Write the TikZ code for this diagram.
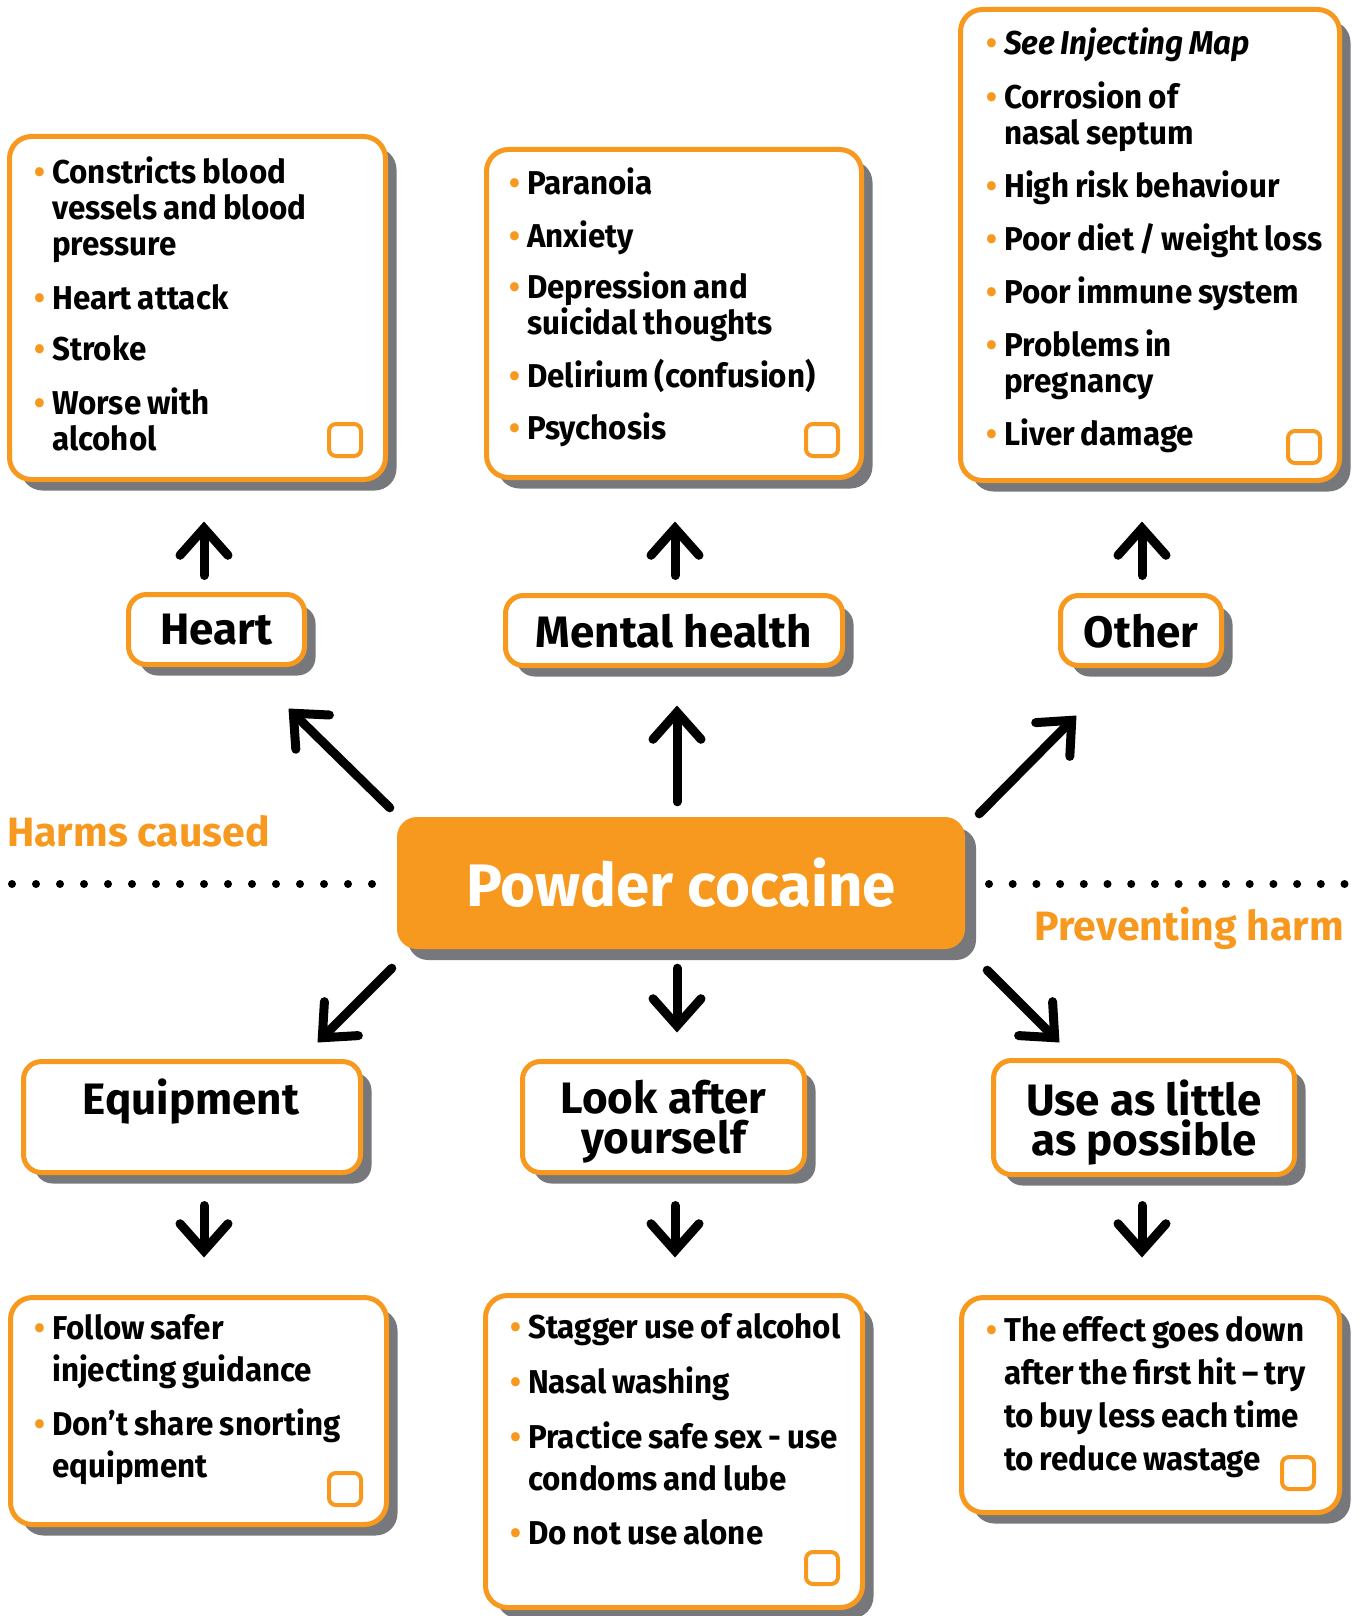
\documentclass[tikz,border=0pt]{standalone}
\usepackage{fontspec}
\setmainfont{Fira Sans}
\newfontfamily\listfont{Fira Sans}[FakeStretch=0.95,WordSpace=0.8]
\usetikzlibrary{arrows.meta,shadows}
\definecolor{cocorange}{HTML}{F7991F}
\definecolor{shadowgrey}{HTML}{77787B}
\newcommand{\bul}{\llap{\textcolor{cocorange}{\textbullet}\hspace{7pt}}}

\begin{document}
\begin{tikzpicture}[x=1pt,y=-1pt,
  shadowed/.style={drop shadow={shadow xshift=11pt,shadow yshift=-11pt,opacity=1,fill=shadowgrey}},
  listbox/.style={shadowed,draw=cocorange,line width=5pt,fill=white,rounded corners=22pt,inner sep=0pt},
  cattxt/.style={inner sep=0pt,align=center,text depth=0pt,font=\bfseries\fontsize{44}{40}\selectfont},
  catbox/.style={cattxt,shadowed,draw=cocorange,line width=5pt,fill=white,rounded corners=18pt},
  ccbox/.style={shadowed,fill=cocorange,text=white,rounded corners=20pt,inner sep=0pt,
    font=\bfseries\fontsize{60}{60}\selectfont},
  listtxt/.style={anchor=north west,inner sep=0pt,align=left,font=\listfont\bfseries\fontsize{33}{36}\selectfont},
  listtxtb/.style={listtxt,font=\listfont\bfseries\fontsize{33}{42}\selectfont},
  chkbox/.style={draw=cocorange,line width=4pt,rounded corners=7pt,minimum size=32pt,inner sep=0pt,anchor=south east},
  sidelbl/.style={text=cocorange,inner sep=0pt,font=\bfseries\fontsize{41}{41}\selectfont},
  bigarrow/.style={line width=9pt,line cap=round,
    -{Straight Barb[length=27pt,width=48pt,line join=miter,line cap=round]}}
]
\useasboundingbox (0,0) rectangle (1360,1616);

% harms caused / preventing harm
\foreach \i in {0,...,15} {
  \fill (12+24*\i,884) circle (4pt);
  \fill (989+23.7*\i,884) circle (4pt);
}
\node[sidelbl,anchor=base west] (harms) at (7,846) {Harms caused};
\node[sidelbl,anchor=base east] (prevent) at (1344,940) {Preventing harm};

% centre
\node[ccbox,minimum width=568,minimum height=132] (cc) at (681,883) {Powder cocaine};

% top row
\node[catbox,minimum width=176,minimum height=70] (hrt) at (216.5,629.5) {Heart};
\node[catbox,minimum width=337,minimum height=70] (mnt) at (674,630.5) {Mental health};
\node[catbox,minimum width=161,minimum height=70] (oth) at (1141,630.5) {Other};

\node[listbox,minimum width=376,minimum height=343] (hrtlist) at (197.5,308) {};
\node[listtxt] (hrttxt) at (52,157) {\bul Constricts blood\\ vessels and blood\\ pressure\\[18pt]
  \bul Heart attack\\[15pt] \bul Stroke\\[18pt] \bul Worse with\\ alcohol};
\node[chkbox] (hrtchk) at ([shift={(-25,-24)}]hrtlist.south east) {};

\node[listbox,minimum width=375,minimum height=328] (mntlist) at (674,313.5) {};
\node[listtxt] (mnttxt) at (527,168) {\bul Paranoia\\[17pt] \bul Anxiety\\[15pt]
  \bul Depression and\\ suicidal thoughts\\[17pt] \bul Delirium (confusion)\\[16pt] \bul Psychosis};
\node[chkbox] (mntchk) at ([shift={(-24,-22)}]mntlist.south east) {};

\node[listbox,minimum width=379,minimum height=471] (othlist) at (1150,245) {};
\node[listtxt] (othtxt) at (1004,28) {\bul \textit{See Injecting Map}\\[18pt] \bul Corrosion of\\ nasal septum\\[17pt]
  \bul High risk behaviour\\[17pt] \bul Poor diet\,/\,weight loss\\[17pt] \bul Poor immune system\\[17pt]
  \bul Problems in\\ pregnancy\\[17pt] \bul Liver damage};
\node[chkbox] (othchk) at ([shift={(-20,-18)}]othlist.south east) {};

% bottom row
\node[catbox,minimum width=337,minimum height=111] (equip) at (192,1117) {};
\node[cattxt,anchor=base] (equiptitle) at (191,1114) {Equipment};
\node[catbox,minimum width=282,minimum height=111] (look) at (663.5,1117) {Look after\\ yourself};
\node[catbox,minimum width=301,minimum height=114] (little) at (1144,1117.5) {Use as little\\ as possible};

\node[listbox,minimum width=376,minimum height=227] (equiplist) at (198.5,1411) {};
\node[listtxtb] (equiptxt) at (52,1314) {\bul Follow safer\\ injecting guidance\\[12pt]
  \bul Don’t share snorting\\ equipment};
\node[chkbox] (equipchk) at ([shift={(-26,-20)}]equiplist.south east) {};

\node[listbox,minimum width=377,minimum height=312] (looklist) at (674,1451.5) {};
\node[listtxtb] (looktxt) at (528,1313) {\bul Stagger use of alcohol\\[13pt] \bul Nasal washing\\[13pt]
  \bul Practice safe sex - use\\ condoms and lube\\[12pt] \bul Do not use alone};
\node[chkbox] (lookchk) at ([shift={(-25,-24)}]looklist.south east) {};

\node[listbox,minimum width=378,minimum height=215] (littlelist) at (1150.5,1405) {};
\node[listtxtb] (littletxt) at (1004,1316) {\bul The effect goes down\\[1pt] after the first hit – try\\[1pt]
  to buy less each time\\[1pt] to reduce wastage};
\node[chkbox] (littlechk) at ([shift={(-26,-24)}]littlelist.south east) {};

% arrows
\draw[bigarrow] ([shift={(-7,-9)}]cc.north west) -- ([shift={(-18.5,41.5)}]hrt.south east);
\draw[bigarrow] ([shift={(-4,-15)}]cc.north) -- ([shift={(3,37.5)}]mnt.south);
\draw[bigarrow] ([shift={(14,-3)}]cc.north east) -- ([shift={(18.5,47.5)}]oth.south west);
\draw[bigarrow] ([shift={(-5,19)}]cc.south west) -- ([shift={(-45.5,-16.5)}]equip.north east);
\draw[bigarrow] ([shift={(-4,19)}]cc.south) -- ([shift={(13.5,-26.5)}]look.north);
\draw[bigarrow] ([shift={(22,21)}]cc.south east) -- ([shift={(68.5,-15.5)}]little.north west);

\draw[bigarrow] ([shift={(-12.5,-16.5)}]hrt.north) -- ([shift={(6.5,39.5)}]hrtlist.south);
\draw[bigarrow] ([shift={(1,-17.5)}]mnt.north) -- ([shift={(1,41.5)}]mntlist.south);
\draw[bigarrow] ([shift={(1,-17.5)}]oth.north) -- ([shift={(-8,38.5)}]othlist.south);

\draw[bigarrow] ([shift={(12,30.5)}]equip.south) -- ([shift={(5.5,-37.5)}]equiplist.north);
\draw[bigarrow] ([shift={(11.5,30.5)}]look.south) -- ([shift={(1,-35.5)}]looklist.north);
\draw[bigarrow] ([shift={(-2,28.5)}]little.south) -- ([shift={(-8.5,-37.5)}]littlelist.north);
\end{tikzpicture}
\end{document}
